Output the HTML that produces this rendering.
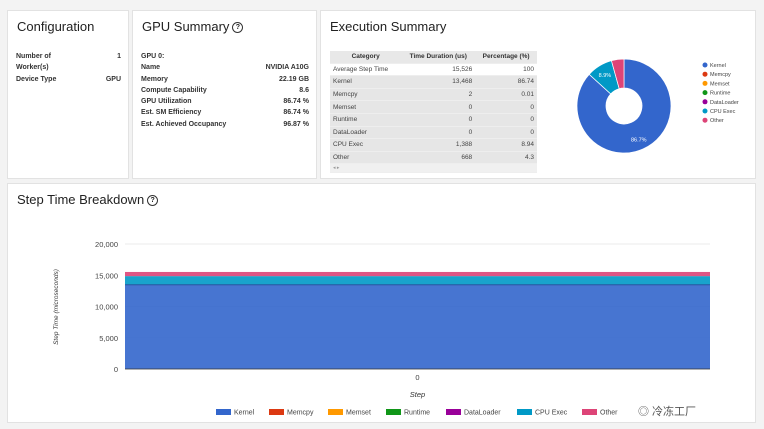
<!DOCTYPE html>
<html><head><meta charset="utf-8"><style>
body{margin:0;width:764px;height:429px;background:#f3f3f3;font-family:"Liberation Sans",sans-serif;position:relative;overflow:hidden}
.card{position:absolute;background:#fff;border:1px solid #e2e2e2;box-sizing:border-box}
.title{position:absolute;left:9px;top:8px;font-size:13px;color:#222}
.kv{position:absolute;font-size:7px;font-weight:bold;color:#333}
.row{display:flex;justify-content:space-between;height:11.3px;line-height:11.3px}
table{border-collapse:collapse;font-size:6.5px;color:#444}
td,th{height:11.6px;padding:0 3px;border-bottom:1px solid #eee}
th{background:#e8e8e8;font-weight:bold;color:#333}
tr.g td{background:#e6e6e6}
td.n{text-align:right}
.q{display:inline-block;width:9px;height:9px;border:1.3px solid #333;border-radius:50%;font-size:7px;line-height:9px;text-align:center;vertical-align:2px;margin-left:3px;font-weight:bold}
</style></head><body>
<div class="card" style="left:7px;top:10px;width:122px;height:169px">
<div class="title">Configuration</div>
<div class="kv" style="left:8px;top:40px;width:105px">
<div class="row"><span>Number of</span><span>1</span></div><div class="row"><span>Worker(s)</span><span></span></div><div class="row"><span>Device Type</span><span>GPU</span></div></div>
</div>
<div class="card" style="left:132px;top:10px;width:185px;height:169px">
<div class="title">GPU Summary<span class="q">?</span></div>
<div class="kv" style="left:8px;top:40px;width:168px">
<div class="row"><span>GPU 0:</span><span></span></div>
<div class="row"><span>Name</span><span>NVIDIA A10G</span></div>
<div class="row"><span>Memory</span><span>22.19 GB</span></div>
<div class="row"><span>Compute Capability</span><span>8.6</span></div>
<div class="row"><span>GPU Utilization</span><span>86.74 %</span></div>
<div class="row"><span>Est. SM Efficiency</span><span>86.74 %</span></div>
<div class="row"><span>Est. Achieved Occupancy</span><span>96.87 %</span></div></div>
</div>
<div class="card" style="left:320px;top:10px;width:436px;height:169px">
<div class="title">Execution Summary</div>
<table style="position:absolute;left:9px;top:40px;width:207px">
<tr><th>Category</th><th>Time Duration (us)</th><th>Percentage (%)</th></tr>
<tr><td>Average Step Time</td><td class="n">15,526</td><td class="n">100</td></tr>
<tr class="g"><td>Kernel</td><td class="n">13,468</td><td class="n">86.74</td></tr>
<tr class="g"><td>Memcpy</td><td class="n">2</td><td class="n">0.01</td></tr>
<tr class="g"><td>Memset</td><td class="n">0</td><td class="n">0</td></tr>
<tr class="g"><td>Runtime</td><td class="n">0</td><td class="n">0</td></tr>
<tr class="g"><td>DataLoader</td><td class="n">0</td><td class="n">0</td></tr>
<tr class="g"><td>CPU Exec</td><td class="n">1,388</td><td class="n">8.94</td></tr>
<tr class="g"><td>Other</td><td class="n">668</td><td class="n">4.3</td></tr>
<tr><td colspan="3" style="background:#f0f0f0;font-size:5px;color:#999;height:8px">◂ ▸</td></tr>
</table>
<svg id="pie" style="position:absolute;left:240px;top:40px" width="194" height="120"></svg>
</div>
<div class="card" style="left:7px;top:183px;width:749px;height:240px">
<div class="title">Step Time Breakdown<span class="q">?</span></div>
</div>
<svg id="bar" style="position:absolute;left:0;top:0" width="764" height="429"></svg>
<div style="position:absolute;left:638px;top:403px;font-size:11px;color:#555;font-family:'Liberation Sans','Noto Sans CJK SC',sans-serif">◎ 冷冻工厂</div>
<script>
const NS="http://www.w3.org/2000/svg";
const categories=["Kernel","Memcpy","Memset","Runtime","DataLoader","CPU Exec","Other"];
const colors=["#3366cc","#dc3912","#ff9900","#109618","#990099","#0099c6","#dd4477"];
const values=[13468,2,0,0,0,1388,668];
const steps=["0"];
const yTicks=[0,5000,10000,15000,20000];
function mk(p,t,a){const e=document.createElementNS(NS,t);for(const k in a)e.setAttribute(k,a[k]);p.appendChild(e);return e;}
const pie=document.getElementById('pie');
const total=values.reduce((a,b)=>a+b,0);
const cx=63,cy=55,R=47,r=18;let ang=0;
values.forEach((v,i)=>{if(!v)return;const a0=ang,a1=ang+v/total*2*Math.PI;ang=a1;
 const pt=(a,rr)=>[cx+rr*Math.sin(a),cy-rr*Math.cos(a)];const big=a1-a0>Math.PI?1:0;
 const [x0,y0]=pt(a0,R),[x1,y1]=pt(a1,R),[x2,y2]=pt(a1,r),[x3,y3]=pt(a0,r);
 const s=mk(pie,'path',{d:`M${x0},${y0}A${R},${R} 0 ${big} 1 ${x1},${y1}L${x2},${y2}A${r},${r} 0 ${big} 0 ${x3},${y3}Z`,fill:colors[i],stroke:'#fff','stroke-width':0.7});
 
 
 const pct=v/total*100;if(pct>5){const [tx,ty]=pt((a0+a1)/2,(R+r)/2+4);const t=mk(pie,'text',{x:tx,y:ty+2,'font-size':5.5,fill:'#fff','text-anchor':'middle'});t.textContent=pct.toFixed(1)+'%';}
});
categories.forEach((c,i)=>{const g=mk(pie,'g',{});
 
 
 mk(g,'circle',{cx:144,cy:14+i*9.2,r:2.5,fill:colors[i]});const t=mk(g,'text',{x:149,y:16+i*9.2,'font-size':5.5,fill:'#444'});t.textContent=c;});
const svg=document.getElementById('bar');
const x0=125,x1=710,yB=369,yT=244,yMax=20000;
const y=v=>yB-(v/yMax)*(yB-yT);
yTicks.forEach(v=>{mk(svg,'line',{x1:x0,x2:x1,y1:y(v),y2:y(v),stroke:'#e4e4e4','stroke-width':0.8});
 const t=mk(svg,'text',{x:x0-7,y:y(v)+3,'font-size':7.5,fill:'#444','text-anchor':'end'});t.textContent=v.toLocaleString('en-US');});
let acc=0;
values.forEach((v,i)=>{if(!v)return;const r=mk(svg,'rect',{x:x0,width:x1-x0,y:y(acc+v),height:y(acc)-y(acc+v),fill:colors[i],'fill-opacity':0.9});
 
 
 acc+=v;});
mk(svg,'line',{x1:x0,x2:x1,y1:y(values[0]),y2:y(values[0]),stroke:'#2a4a99','stroke-width':0.8});
mk(svg,'line',{x1:x0,x2:x1,y1:yB,y2:yB,stroke:'#333','stroke-width':0.8});
steps.forEach(s=>{const t=mk(svg,'text',{x:(x0+x1)/2,y:yB+11,'font-size':7.5,fill:'#444','text-anchor':'middle'});t.textContent=s;});
let t=mk(svg,'text',{x:(x0+x1)/2,y:397,'font-size':7.5,fill:'#333','text-anchor':'middle','font-style':'italic'});t.textContent='Step';
t=mk(svg,'text',{x:0,y:0,'font-size':6.5,fill:'#333','text-anchor':'middle','font-style':'italic',transform:'translate(58,307) rotate(-90)'});t.textContent='Step Time (microseconds)';
const lx=[216,269,328,386,446,517,582];
categories.forEach((c,i)=>{const g=mk(svg,'g',{});
 
 
 mk(g,'rect',{x:lx[i],y:409,width:15,height:6,fill:colors[i]});const tt=mk(g,'text',{x:lx[i]+18,y:414.5,'font-size':7,fill:'#444'});tt.textContent=c;});
</script>
</body></html>
